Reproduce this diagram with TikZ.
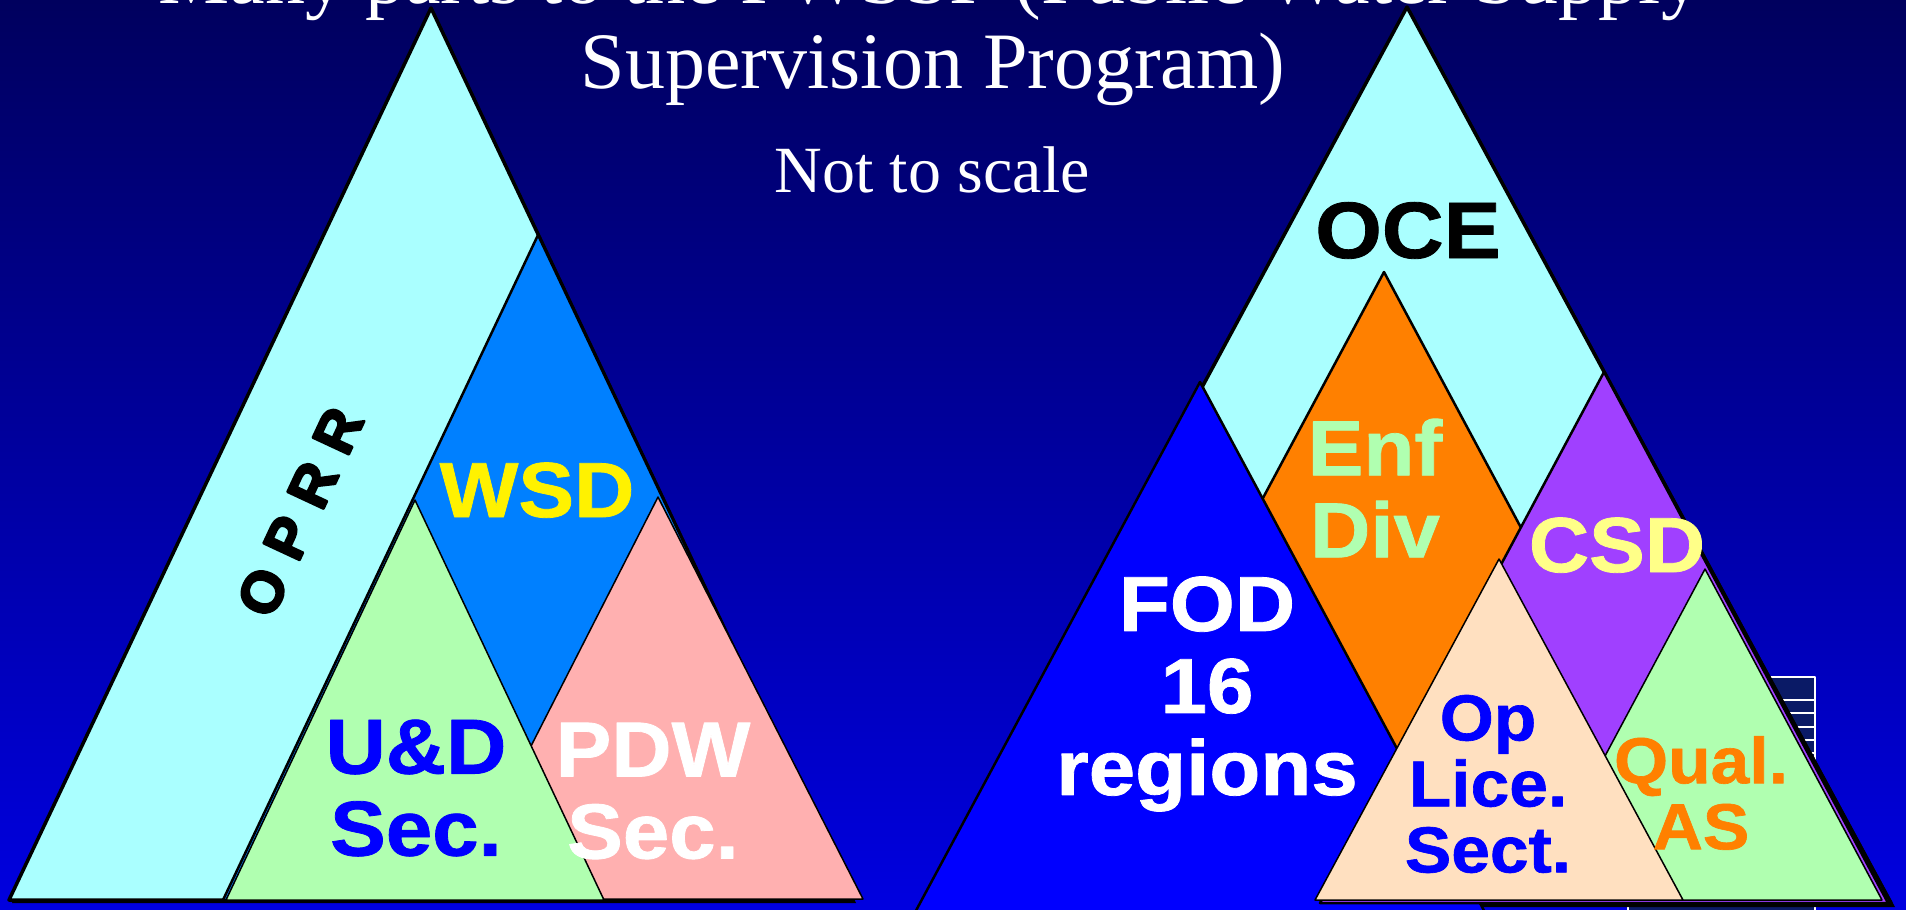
\documentclass[tikz,border=0pt]{standalone}
\usepackage{fontspec}
\setmainfont{Liberation Serif}
\setsansfont{Liberation Sans}
\newfontfamily\lblfont{Liberation Sans}[FakeStretch=1.07,BoldFeatures={FakeBold=1}]
\newfontfamily\heavyfont{Liberation Sans}[BoldFeatures={FakeBold=4}]
\definecolor{bgtop}{HTML}{00005E}
\definecolor{bgbot}{HTML}{0000E0}
\definecolor{cyanF}{HTML}{AAFFFF}
\definecolor{wsdF}{HTML}{0080FF}
\definecolor{greenF}{HTML}{B0FFB0}
\definecolor{pinkF}{HTML}{FFB0B0}
\definecolor{orangeF}{HTML}{FF8000}
\definecolor{purpleF}{HTML}{A040FF}
\definecolor{fodF}{HTML}{0000FF}
\definecolor{peachF}{HTML}{FFE0C0}
\definecolor{csdT}{HTML}{FFFF88}
\definecolor{tableF}{HTML}{0A1A66}
\begin{document}
\begin{tikzpicture}[x=1pt,y=-1pt,line join=round,
  tri/.style={draw=black,line width=1.5pt},
  midtri/.style={draw=black,line width=2.5pt},
  bigtri/.style={draw=black,line width=3.5pt},
  shadowtri/.style={fill=black},
  lbl/.style={font=\lblfont\bfseries\fontsize{78}{82}\selectfont,align=center,inner sep=0pt},
  smalllbl/.style={font=\lblfont\bfseries\fontsize{65}{66}\selectfont,align=center,inner sep=0pt},
  titletext/.style={font=\fontsize{80}{84}\selectfont,text=white,inner sep=0pt,anchor=base}]
\useasboundingbox (0,0) rectangle (1906,910);
\clip (0,0) rectangle (1906,910);
\shade[top color=bgtop,bottom color=bgbot] (0,0) rectangle (1906,910);

% hidden table at bottom right
\draw[fill=tableF,draw=white,line width=2pt] (1628,677) rectangle (1815,930);
\foreach \yy in {700,713,727,740,753,766,779,792,805,818,831,844,857,870,883,896}
  \draw[white,line width=1.5pt] (1628,\yy) -- (1815,\yy);

% ---------- left group ----------
\coordinate (LA) at (431,8);
\coordinate (LL) at (9,900);
\coordinate (LR) at (853,900);
\fill[shadowtri] ([shift={(3,3)}]LA) -- ([shift={(3,3)}]LL) -- ([shift={(3,3)}]LR) -- cycle;
\filldraw[bigtri,fill=cyanF] (LA) -- (LL) -- (LR) -- cycle;

\coordinate (WA) at (538,235);
\coordinate (WL) at (223,900);
\coordinate (WR) at (853,900);
\filldraw[midtri,fill=wsdF] (WA) -- (WL) -- (WR) -- cycle;

\coordinate (PA) at (658,497);
\coordinate (PL) at (453,899);
\coordinate (PR) at (863,899);
\filldraw[tri,fill=pinkF] (PA) -- (PL) -- (PR) -- cycle;

\coordinate (UA) at (415,500);
\coordinate (UL) at (226,900);
\coordinate (UR) at (604,900);
\filldraw[tri,fill=greenF] (UA) -- (UL) -- (UR) -- cycle;

\node[font=\heavyfont\bfseries\fontsize{58}{58}\selectfont,rotate=65,inner sep=0pt] (oprr) at (300,512)
  {O\hspace{18pt}P\hspace{18pt}R\hspace{18pt}R};
\node[lbl,text=yellow,anchor=base] (wsd) at (537,517) {WSD};
\node[lbl,text=fodF] (ud) at (416,788) {U\&D\\Sec.};
\node[lbl,text=white] (pdw) at (653,791) {PDW\\Sec.};

% ---------- right group ----------
\coordinate (OA) at (1407,7);
\coordinate (OL) at (924,903);
\coordinate (OR) at (1891,903);
\fill[shadowtri] ([shift={(4,4)}]OA) -- ([shift={(4,4)}]OL) -- ([shift={(4,4)}]OR) -- cycle;
\filldraw[bigtri,fill=cyanF] (OA) -- (OL) -- (OR) -- cycle;

\coordinate (EA) at (1384,272);
\coordinate (EL) at (1046,903);
\coordinate (ER) at (1722,903);
\filldraw[midtri,fill=orangeF] (EA) -- (EL) -- (ER) -- cycle;

\coordinate (FA) at (1200,382);
\coordinate (FL) at (912,918);
\coordinate (FR) at (1488,918);
\filldraw[midtri,fill=fodF] (FA) -- (FL) -- (FR) -- cycle;

\coordinate (CA) at (1604,372);
\coordinate (CL) at (1320,903);
\coordinate (CR) at (1888,903);
\filldraw[midtri,fill=purpleF] (CA) -- (CL) -- (CR) -- cycle;

\coordinate (QA) at (1705,569);
\coordinate (QL) at (1528,900);
\coordinate (QR) at (1882,900);
\filldraw[tri,fill=greenF] (QA) -- (QL) -- (QR) -- cycle;

\coordinate (SA) at (1499,559);
\coordinate (SL) at (1315,900);
\coordinate (SR) at (1683,900);
\filldraw[tri,fill=peachF] (SA) -- (SL) -- (SR) -- cycle;

\node[lbl,text=black,anchor=base,font=\lblfont\bfseries\fontsize{80}{82}\selectfont] (oce) at (1408,258) {OCE};
\node[lbl,text=greenF] (enf) at (1375,488) {Enf\\Div};
\node[lbl,text=csdT,anchor=base] (csd) at (1617,572) {CSD};
\node[lbl,text=white] (fod) at (1207,694) {FOD\\16\\regions};
\node[smalllbl,text=fodF] (op) at (1488,784) {Op\\Lice.\\Sect.};
\node[smalllbl,text=orangeF] (qual) at (1701,793) {Qual.\\AS};

% ---------- title ----------
\node[titletext] (t1) at (930,4) {Many parts to the PWSSP (Public Water Supply};
\node[titletext] (t2) at (933,88) {Supervision Program)};
\node[titletext,font=\fontsize{66}{70}\selectfont] (t3) at (932,192) {Not to scale};
\end{tikzpicture}
\end{document}
